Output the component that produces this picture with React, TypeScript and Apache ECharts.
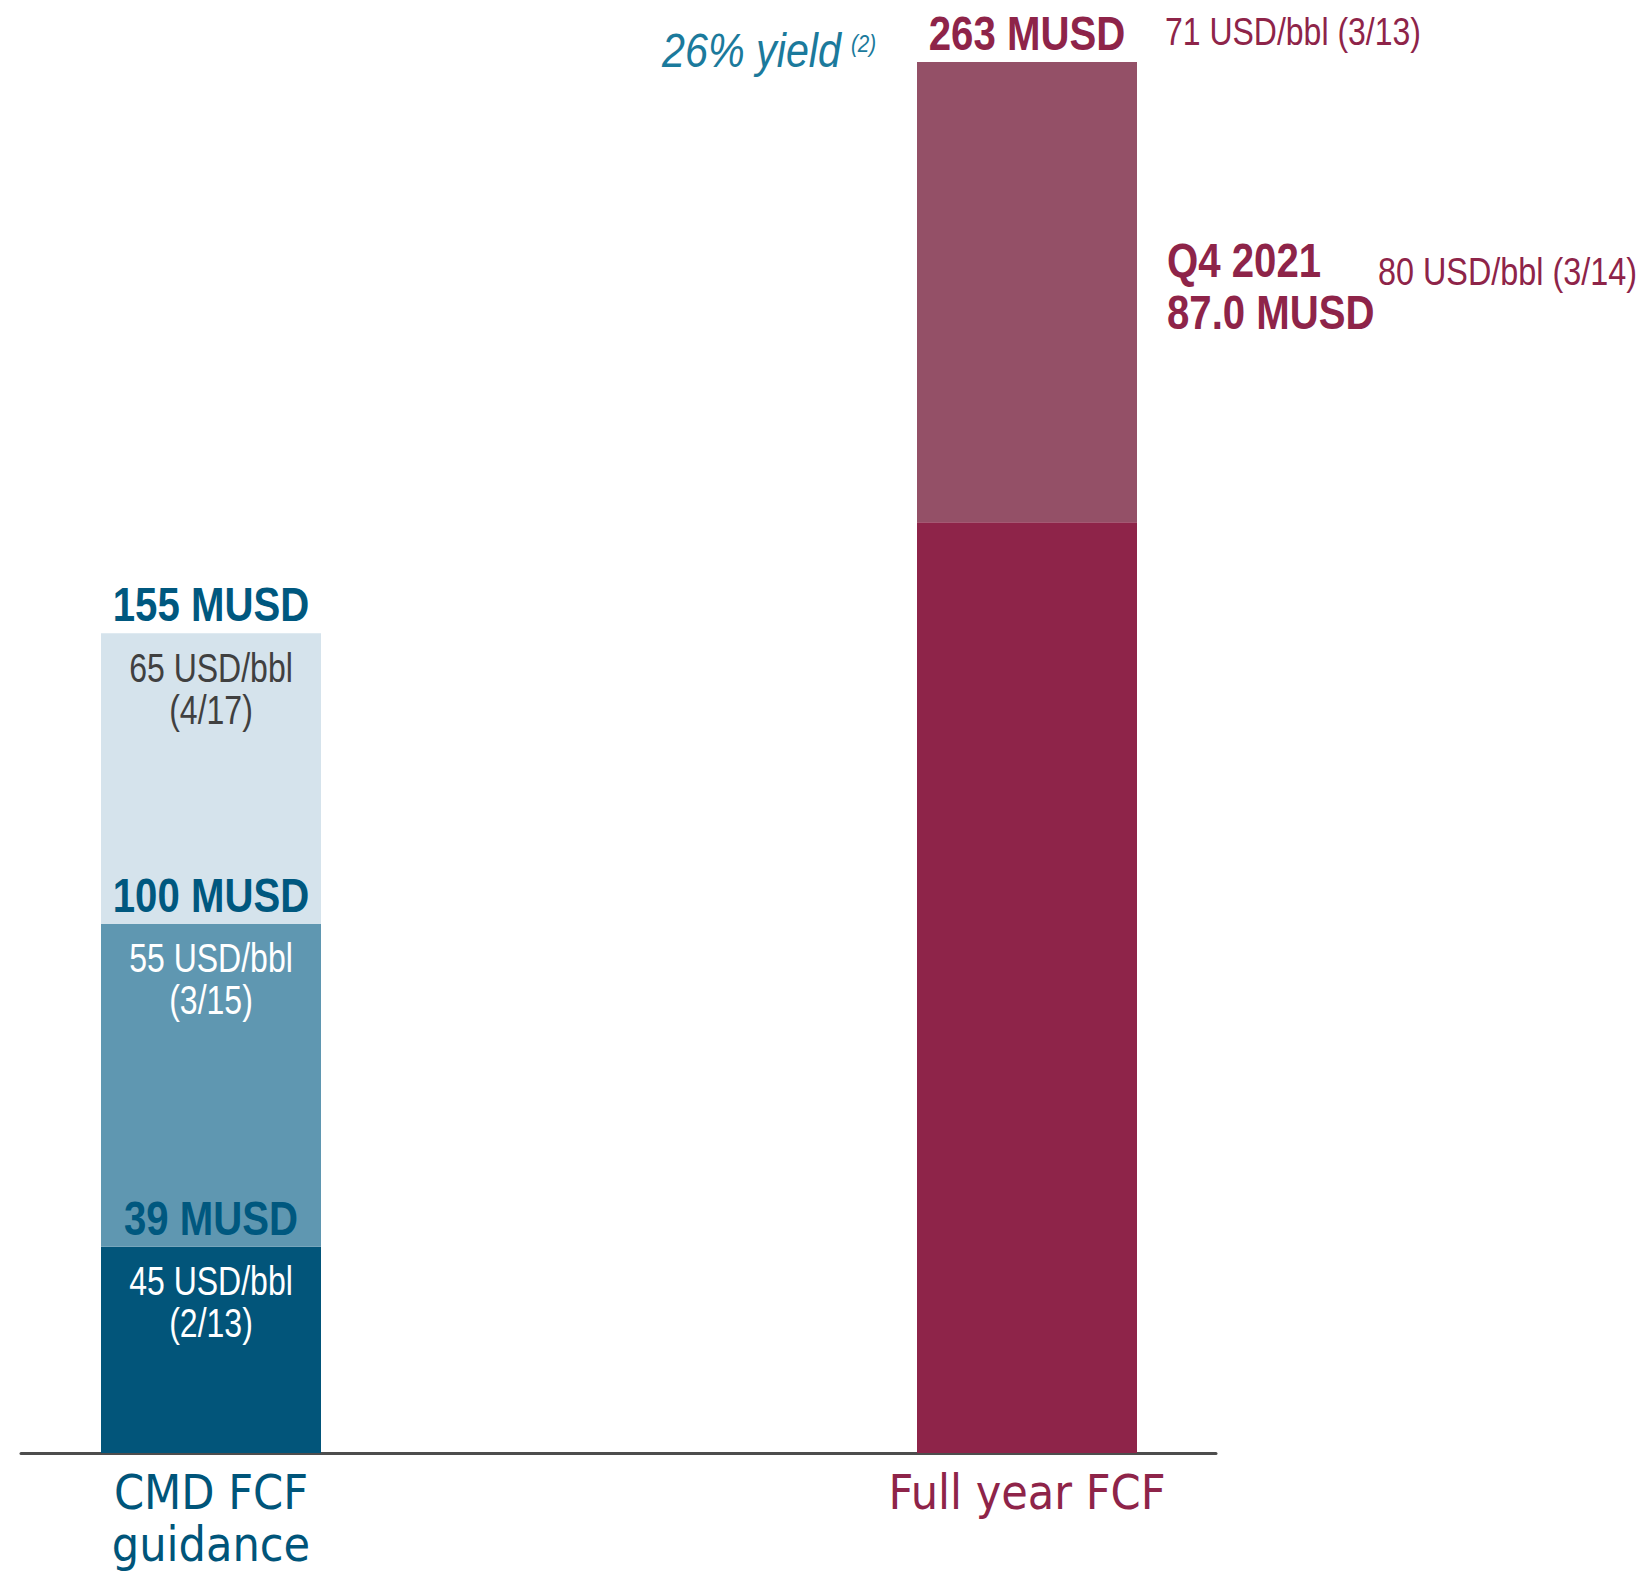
import React, { useEffect, useRef } from "react";
import * as echarts from "echarts";

const categories = ["CMD FCF\nguidance", "Full year FCF"];
const categoryColors = ["#00557a", "#8e2449"];

// CMD FCF guidance: cumulative totals (MUSD) at each oil-price case
const cmdTotals = [39, 100, 155];
const cmdPrices = ["45 USD/bbl", "55 USD/bbl", "65 USD/bbl"];
const cmdSplits = ["(2/13)", "(3/15)", "(4/17)"];

// Full year FCF (MUSD): total and Q4 2021 part
const fyTotal = 263;
const q4Value = 87.0;
const fyPrice = "71 USD/bbl (3/13)";
const q4Price = "80 USD/bbl (3/14)";
const q4Name = "Q4 2021";
const yieldText = "26% yield";
const yieldNote = "(2)";

const LIB = "'Liberation Sans', Arial, sans-serif";
const AXISFONT = "'DejaVu Sans Condensed', 'Liberation Sans', sans-serif";
const cmdColors = ["#02557a", "#5f97b1", "#d5e3ec"];
const cmdSmallText = ["#ffffff", "#ffffff", "#404040"];
const blueText = "#00587f";
const maroon = "#8e2449";
const maroonLight = "#945067";
const teal = "#1b7a9c";

export default function App() {
  const ref = useRef<HTMLDivElement>(null);
  useEffect(() => {
    document.body.style.margin = "0";
    if (!ref.current) return;
    const chart = echarts.init(ref.current, null, { renderer: "svg" });

    const cmdSeries = cmdTotals.map((t, i) => ({
      type: "bar",
      stack: "s",
      barWidth: 220,
      data: [t - (i > 0 ? cmdTotals[i - 1] : 0), "-"],
      itemStyle: { color: cmdColors[i] },
    }));

    const option = {
      animation: false,
      grid: [
        { left: -197, right: 215, top: 25, bottom: 121, outerBoundsMode: "none", containLabel: false },
        { left: 21, width: 1195, bottom: 121, height: 10, outerBoundsMode: "none", containLabel: false },
      ],
      xAxis: [
        {
          type: "category",
          gridIndex: 0,
          data: categories.map((c, i) => ({ value: c, textStyle: { color: categoryColors[i] } })),
          axisLine: { show: false },
          axisTick: { show: false },
          axisLabel: { fontFamily: AXISFONT, fontSize: 48, lineHeight: 52, margin: 13, interval: 0 },
        },
        {
          type: "value",
          gridIndex: 1,
          min: 0,
          max: 1,
          axisLine: { show: true, onZero: false, lineStyle: { color: "#4d4d4d", width: 3 } },
          axisTick: { show: false },
          axisLabel: { show: false },
          splitLine: { show: false },
        },
      ],
      yAxis: [
        { type: "value", gridIndex: 0, min: 0, max: 270, show: false },
        { type: "value", gridIndex: 1, min: 0, max: 1, show: false },
      ],
      series: [
        ...cmdSeries,
        { type: "bar", stack: "s", barWidth: 220, data: ["-", fyTotal - q4Value], itemStyle: { color: maroon } },
        { type: "bar", stack: "s", barWidth: 220, data: ["-", q4Value], itemStyle: { color: maroonLight } },
      ],
    };
    chart.setOption(option as any);

    const px = (cat: number, v: number) =>
      chart.convertToPixel({ xAxisIndex: 0, yAxisIndex: 0 }, [cat, v]) as number[];

    const els: any[] = [];
    const add = (
      x: number,
      y: number,
      text: string,
      fill: string,
      align: string,
      size: number,
      sx: number,
      weight = "normal",
      fstyle = "normal"
    ) => {
      els.push({
        type: "text",
        x,
        y,
        scaleX: sx,
        silent: true,
        z: 100,
        style: {
          text,
          fill,
          fontFamily: LIB,
          fontSize: size,
          fontWeight: weight,
          fontStyle: fstyle,
          textAlign: align,
          textVerticalAlign: "middle",
          align,
          verticalAlign: "middle",
        },
      });
    };

    // CMD FCF guidance labels
    cmdTotals.forEach((t, i) => {
      const [cx, top] = px(0, t);
      add(cx, top - 29.5, `${t} MUSD`, blueText, "center", 49, 0.82, "bold");
      add(cx, top + 34.5, cmdPrices[i], cmdSmallText[i], "center", 40, 0.8);
      add(cx, top + 76.5, cmdSplits[i], cmdSmallText[i], "center", 40, 0.8);
    });

    // Full year FCF labels
    const [fx, ftop] = px(1, fyTotal);
    const [, qmid] = px(1, fyTotal - q4Value / 2);
    add(fx, ftop - 30, `${fyTotal} MUSD`, maroon, "center", 49, 0.82, "bold");
    add(fx + 138, ftop - 30, fyPrice, maroon, "left", 39, 0.82);
    add(fx - 186, ftop - 12, yieldText, teal, "right", 48, 0.86, "normal", "italic");
    add(fx - 176, ftop - 18, yieldNote, teal, "left", 24, 0.86, "normal", "italic");
    add(fx + 140, qmid - 33, q4Name, maroon, "left", 49, 0.82, "bold");
    add(fx + 140, qmid + 19.5, `${q4Value.toFixed(1)} MUSD`, maroon, "left", 49, 0.82, "bold");
    add(fx + 351, qmid - 20, q4Price, maroon, "left", 39, 0.83);

    chart.setOption({ graphic: { elements: els } } as any);
    return () => chart.dispose();
  }, []);
  return <div ref={ref} style={{ width: 1650, height: 1574 }} />;
}
